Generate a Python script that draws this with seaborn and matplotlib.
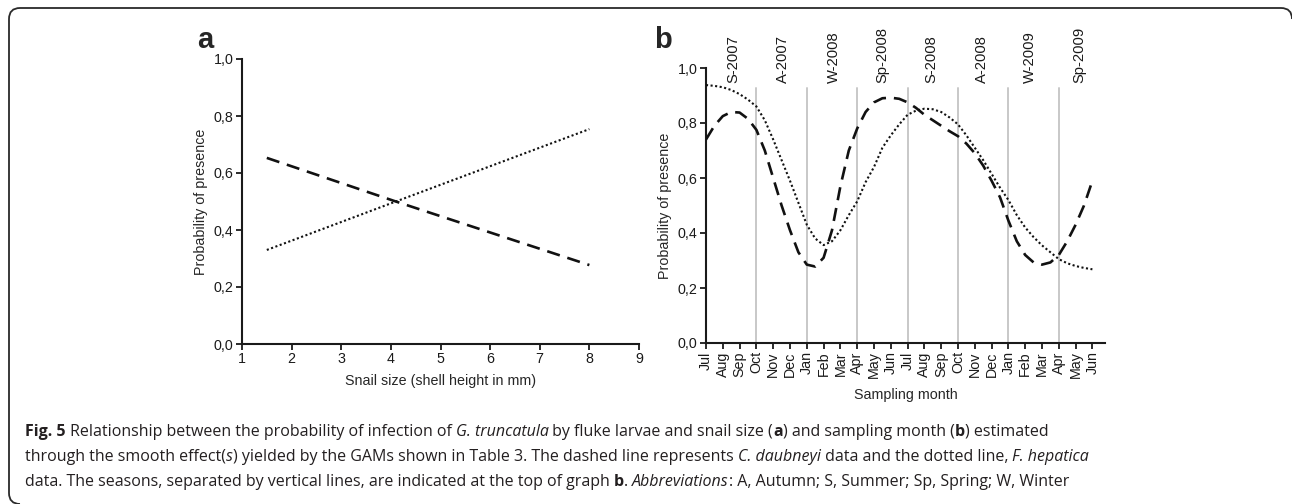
import numpy as np
import pandas as pd
import matplotlib
matplotlib.use("Agg")
import matplotlib.pyplot as plt
import seaborn as sns
from matplotlib.path import Path
from matplotlib.patches import PathPatch

# ---------------- data ----------------
# Panel a: snail size (mm) vs probability of presence
size_mm = [1.5, 4.1, 8.0]
size_daubneyi = [0.653, 0.50, 0.277]
size_hepatica = [0.330, 0.50, 0.754]

# Panel b: sampling month (index 0 = Jul 2007), half-month steps
month_pos = np.arange(0, 23.5, 0.5)
month_daubneyi = [0.74, 0.79, 0.825, 0.84, 0.838, 0.815, 0.775, 0.70, 0.60, 0.50,
                  0.41, 0.33, 0.285, 0.278, 0.31, 0.41, 0.57, 0.70, 0.78, 0.84,
                  0.875, 0.89, 0.892, 0.888, 0.875, 0.855, 0.83, 0.81, 0.79, 0.77,
                  0.752, 0.725, 0.69, 0.645, 0.59, 0.53, 0.445, 0.37, 0.32, 0.293,
                  0.285, 0.293, 0.32, 0.37, 0.43, 0.50, 0.59]
month_hepatica = [0.938, 0.935, 0.93, 0.92, 0.905, 0.885, 0.86, 0.81, 0.74, 0.665,
                  0.59, 0.51, 0.43, 0.38, 0.356, 0.37, 0.41, 0.465, 0.515, 0.585,
                  0.64, 0.71, 0.755, 0.795, 0.83, 0.845, 0.852, 0.85, 0.84, 0.82,
                  0.795, 0.755, 0.71, 0.665, 0.615, 0.565, 0.52, 0.465, 0.42, 0.385,
                  0.355, 0.33, 0.305, 0.29, 0.28, 0.273, 0.268]
month_labels = ["Jul", "Aug", "Sep", "Oct", "Nov", "Dec", "Jan", "Feb", "Mar", "Apr", "May", "Jun",
                "Jul", "Aug", "Sep", "Oct", "Nov", "Dec", "Jan", "Feb", "Mar", "Apr", "May", "Jun"]
season_boundaries = [3, 6, 9, 12, 15, 18, 21]
season_labels = ["S-2007", "A-2007", "W-2008", "Sp-2008", "S-2008", "A-2008", "W-2009", "Sp-2009"]
season_centers = [1.6, 4.6, 7.6, 10.5, 13.4, 16.4, 19.3, 22.2]
y_ticks = [0.0, 0.2, 0.4, 0.6, 0.8, 1.0]
y_ticklabels = ["0,0", "0,2", "0,4", "0,6", "0,8", "1,0"]

# ---------------- style ----------------
sns.set_style("ticks")
plt.rcParams["font.family"] = ["Liberation Sans", "DejaVu Sans"]

W, H = 1292, 504
fig = plt.figure(figsize=(W / 100, H / 100), dpi=100)
FS = 10.3

def px_axes(left, top, right, bottom):
    return fig.add_axes([left / W, 1 - bottom / H, (right - left) / W, (bottom - top) / H])

dash_style = {"C. daubneyi": (5, 3), "F. hepatica": (1, 1.2)}

df_a = pd.DataFrame({
    "x": size_mm * 2,
    "y": size_daubneyi + size_hepatica,
    "species": ["C. daubneyi"] * len(size_mm) + ["F. hepatica"] * len(size_mm),
})
df_b = pd.DataFrame({
    "x": list(month_pos) * 2,
    "y": month_daubneyi + month_hepatica,
    "species": ["C. daubneyi"] * len(month_pos) + ["F. hepatica"] * len(month_pos),
})

def style_axes(ax):
    for s in ["top", "right"]:
        ax.spines[s].set_visible(False)
    for s in ["left", "bottom"]:
        ax.spines[s].set_linewidth(1.5)
        ax.spines[s].set_color("#1a1a1a")
    ax.tick_params(direction="out", length=4, width=1.3, labelsize=FS, colors="#1a1a1a", pad=2)
    ax.set_ylim(0, 1)
    ax.set_yticks(y_ticks)
    ax.set_yticklabels(y_ticklabels)
    ax.set_facecolor("white")

# ---------------- panel a ----------------
ax_a = px_axes(242, 59, 639, 344)
for sp, lw in [("C. daubneyi", 1.9), ("F. hepatica", 1.5)]:
    sns.lineplot(data=df_a[df_a.species == sp], x="x", y="y", ax=ax_a, color="#111111",
                 linewidth=lw, legend=False)
    ax_a.lines[-1].set_dashes(dash_style[sp])
style_axes(ax_a)
ax_a.set_xlim(1, 9)
ax_a.set_xticks(range(1, 10))
ax_a.set_xlabel("Snail size (shell height in mm)", fontsize=FS)
ax_a.set_ylabel("Probability of presence", fontsize=FS)
ax_a.xaxis.set_label_coords(0.5, -0.105)
ax_a.yaxis.set_label_coords(-0.085, 0.5)
fig.text(205 / W, 1 - 48 / H, "a", fontsize=21, fontweight="bold", ha="center", va="baseline")

# ---------------- panel b ----------------
ax_b = px_axes(706, 68, 1105, 343)
for xb in season_boundaries:
    ax_b.plot([xb, xb], [0, 0.927], color="#c8c8c8", linewidth=1.4, zorder=1)
for sp, lw in [("C. daubneyi", 1.9), ("F. hepatica", 1.5)]:
    sns.lineplot(data=df_b[df_b.species == sp], x="x", y="y", ax=ax_b, color="#111111",
                 linewidth=lw, legend=False, zorder=3)
    ax_b.lines[-1].set_dashes(dash_style[sp])
style_axes(ax_b)
ax_b.set_xlim(0, 23.75)
ax_b.set_xticks(range(len(month_labels)))
ax_b.set_xticklabels(month_labels, rotation=90)
ax_b.set_xlabel("Sampling month", fontsize=FS)
ax_b.set_ylabel("Probability of presence", fontsize=FS)
ax_b.xaxis.set_label_coords(0.5, -0.165)
ax_b.yaxis.set_label_coords(-0.085, 0.5)
for xc, lab in zip(season_centers, season_labels):
    ax_b.text(xc, 0.945, lab, rotation=90, ha="center", va="bottom", fontsize=FS + 0.3,
              color="#1a1a1a", clip_on=False)
fig.text(663 / W, 1 - 48 / H, "b", fontsize=21, fontweight="bold", ha="center", va="baseline")

# ---------------- frame ----------------
r = 11
verts = [(20, 504), (9, 504), (9, 493), (9, 8 + r), (9, 8), (9 + r, 8),
         (1281, 8), (1292, 8), (1292, 19)]
codes = [Path.MOVETO, Path.CURVE3, Path.CURVE3, Path.LINETO, Path.CURVE3, Path.CURVE3,
         Path.LINETO, Path.CURVE3, Path.CURVE3]
verts_fig = [(x / W, 1 - y / H) for x, y in verts]
fig.patches.append(PathPatch(Path(verts_fig, codes), transform=fig.transFigure,
                             fill=False, edgecolor="#2a2a2a", linewidth=1.3))

# ---------------- caption ----------------
cap_lines = [
    [("Fig. 5", "bold"), (" Relationship between the probability of infection of ", "normal"),
     ("G. truncatula", "italic"), (" by fluke larvae and snail size (", "normal"), ("a", "bold"),
     (") and sampling month (", "normal"), ("b", "bold"), (") estimated", "normal")],
    [("through the smooth effect(", "normal"), ("s", "italic"),
     (") yielded by the GAMs shown in Table 3. The dashed line represents ", "normal"),
     ("C. daubneyi", "italic"), (" data and the dotted line, ", "normal"), ("F. hepatica", "italic")],
    [("data. The seasons, separated by vertical lines, are indicated at the top of graph ", "normal"),
     ("b", "bold"), (". ", "normal"), ("Abbreviations", "italic"),
     (": A, Autumn; S, Summer; Sp, Spring; W, Winter", "normal")],
]
cap_baselines = [436, 461, 486]
cap_font = ["Open Sans", "DejaVu Sans"]
cap_size = 11.5
renderer = fig.canvas.get_renderer()
for runs, yb in zip(cap_lines, cap_baselines):
    x = 25.0
    for txt, sty in runs:
        t = fig.text(x / W, 1 - yb / H, txt, fontsize=cap_size, family=cap_font,
                     fontweight="bold" if sty == "bold" else "normal",
                     fontstyle="italic" if sty == "italic" else "normal",
                     color="#231f20", ha="left", va="baseline")
        bb = t.get_window_extent(renderer=renderer)
        x += bb.width

fig.savefig("out.png", dpi=100, facecolor="white")
